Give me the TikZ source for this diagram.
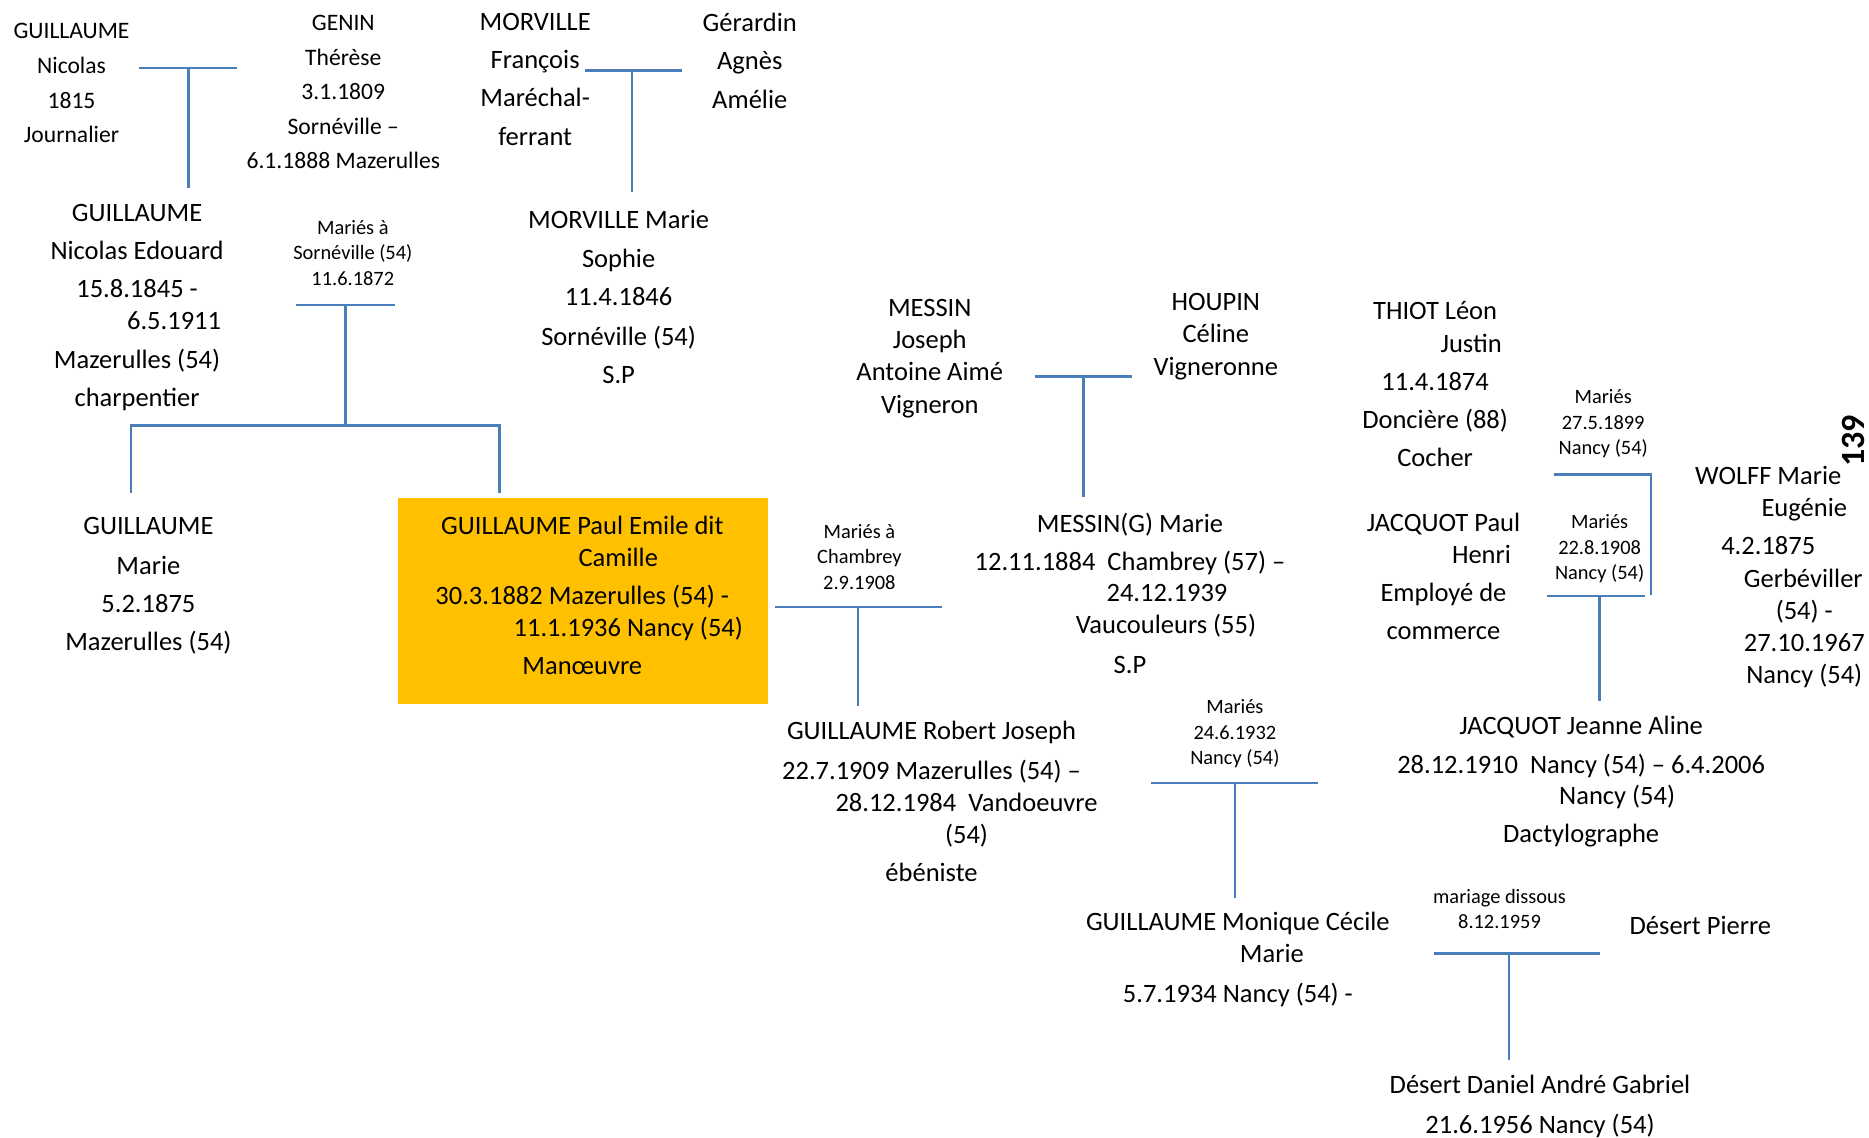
\documentclass[tikz,border=0pt]{standalone}
\usepackage{fontspec}
\setmainfont{Carlito}
\definecolor{linkblue}{HTML}{4A7EBB}
\definecolor{boxgold}{HTML}{FFC000}
\newcommand{\indr}[1]{\hspace*{#1pt}}

\begin{document}
\begin{tikzpicture}[x=0.596pt, y=-0.596pt,
  pers/.style={anchor=north, align=center, inner sep=0pt, yshift=-2.7pt,
    font=\fontsize{13.25}{16.1}\selectfont, execute at begin node=\rule{0pt}{11pt}},
  old/.style={pers, font=\fontsize{11.8}{17.3}\selectfont},
  wed/.style={anchor=north, align=center, inner sep=0pt, yshift=-2.5pt,
    font=\fontsize{10.2}{12.8}\selectfont, execute at begin node=\rule{0pt}{9pt}},
  link/.style={draw=linkblue, line width=1.2pt}]

\useasboundingbox (0,0) rectangle (1568,954);

\fill[boxgold] (334,418) rectangle (644,591);

% first generation
\node[old] (nicolas) at (60,14.9) {GUILLAUME\\Nicolas\\1815\\Journalier};
\node[old] (therese) at (288,7.9) {GENIN\\Thérèse\\3.1.1809\\Sornéville –\\6.1.1888 Mazerulles};
\node[pers] (francois) at (449,6.3) {MORVILLE\\[3pt]François\\[3pt]Maréchal-\\[3pt]ferrant};
\node[pers] (agnes) at (629,6.3) {Gérardin\\[3pt]Agnès\\[3pt]Amélie};

% second generation
\node[pers] (edouard) at (115,166.3) {GUILLAUME\\[3pt]Nicolas Edouard\\[3pt]15.8.1845 -\\\indr{37}6.5.1911\\[3pt]Mazerulles (54)\\[3pt]charpentier};
\node[pers] (sophie) at (519,171.3) {MORVILLE Marie\\[3.6pt]Sophie\\[3pt]11.4.1846\\[3.6pt]Sornéville (54)\\[3pt]S.P};
\node[wed] (mar1) at (296,180.3) {Mariés à\\Sornéville (54)\\11.6.1872};

\node[pers] (joseph) at (780,246.3) {MESSIN\\Joseph\\Antoine Aimé\\Vigneron};
\node[pers] (celine) at (1020,241.3) {HOUPIN\\Céline\\Vigneronne};
\node[pers] (leon) at (1204,248.3) {THIOT Léon\\\indr{36}Justin\\[3pt]11.4.1874\\[3pt]Doncière (88)\\[3pt]Cocher};
\node[wed] (mar3) at (1345,322.3) {Mariés\\27.5.1899\\Nancy (54)};
\node[pers] (eugenie) at (1483.5,386.3) {WOLFF Marie\\\indr{36}Eugénie\\[3pt]4.2.1875\\\indr{35}Gerbéviller\\\indr{36}(54) -\\\indr{36}27.10.1967\\\indr{36}Nancy (54)};
\node[font=\fontsize{17}{20}\selectfont\bfseries, rotate=90, inner sep=0pt] (page) at (1555,370) {139};

% third generation
\node[pers] (marieG) at (124.5,429.3) {GUILLAUME\\[3.6pt]Marie\\[3pt]5.2.1875\\[3pt]Mazerulles (54)};
\node[pers] (paul) at (488.5,428.3) {GUILLAUME Paul Emile dit\\\indr{36}Camille\\[2.5pt]30.3.1882 Mazerulles (54) -\\\indr{46}11.1.1936 Nancy (54)\\[3pt]Manœuvre};
\node[wed] (mar2) at (721,435.3) {Mariés à\\Chambrey\\2.9.1908};
\node[pers] (marieM) at (948,425.3) {MESSIN(G) Marie\\[3pt]12.11.1884\ \ Chambrey (57) –\\[-0.5pt]\indr{37}24.12.1939\\\indr{36}Vaucouleurs (55)\\[3.6pt]S.P};
\node[pers] (paulJ) at (1211,425.3) {JACQUOT Paul\\\indr{38}Henri\\[3pt]Employé de\\[3pt]commerce};
\node[wed] (mar4) at (1342,427.3) {Mariés\\22.8.1908\\Nancy (54)};

% fourth generation
\node[pers] (robert) at (781.5,600.3) {GUILLAUME Robert Joseph\\[3.6pt]22.7.1909 Mazerulles (54) –\\\indr{35}28.12.1984\ \ Vandoeuvre\\\indr{35}(54)\\[3pt]ébéniste};
\node[wed] (mar5) at (1036,582.3) {Mariés\\24.6.1932\\Nancy (54)};
\node[pers] (jeanne) at (1326.5,596.3) {JACQUOT Jeanne Aline\\[3pt]28.12.1910\ \ Nancy (54) – 6.4.2006\\[-0.5pt]\indr{36}Nancy (54)\\[3pt]Dactylographe};

% fifth generation
\node[pers] (monique) at (1038.5,760.3) {GUILLAUME Monique Cécile\\\indr{34}Marie\\[3.6pt]5.7.1934 Nancy (54) -};
\node[wed] (mar6) at (1258,741.3) {mariage dissous\\8.12.1959};
\node[pers] (pierre) at (1426.5,760.3) {Désert Pierre};
\node[pers] (daniel) at (1292,897.3) {Désert Daniel André Gabriel\\[3.6pt]21.6.1956 Nancy (54)};

% couple bars and descent lines
\coordinate (c1l) at (117,57);   \coordinate (c1r) at (199,57);   \coordinate (c1d) at (158,158);
\coordinate (c2l) at (491,59);   \coordinate (c2r) at (572,59);   \coordinate (c2d) at (530,161);
\coordinate (c3l) at (248,256);  \coordinate (c3r) at (331,256);  \coordinate (c3d) at (290,357);
\coordinate (s3l) at (110,414);  \coordinate (s3r) at (419,414);
\coordinate (c4l) at (868,316);  \coordinate (c4r) at (950,316);  \coordinate (c4d) at (909,417);
\coordinate (c5l) at (650,509);  \coordinate (c5r) at (790,509);  \coordinate (c5d) at (720,592);
\coordinate (c6l) at (1304,398); \coordinate (c6r) at (1385,398); \coordinate (c6d) at (1385,499);
\coordinate (c7l) at (1298,500); \coordinate (c7r) at (1380,500); \coordinate (c7d) at (1342,588);
\coordinate (c8l) at (966,657);  \coordinate (c8r) at (1106,657); \coordinate (c8d) at (1036,753);
\coordinate (c9l) at (1203,800); \coordinate (c9r) at (1342,800); \coordinate (c9d) at (1266,889);

\draw[link] (c1l) -- (c1r);  \draw[link] (c1d |- c1l) -- (c1d);
\draw[link] (c2l) -- (c2r);  \draw[link] (c2d |- c2l) -- (c2d);
\draw[link] (c3l) -- (c3r);  \draw[link] (c3d |- c3l) -- (c3d);
\draw[link] (s3l) |- (c3d) -| (s3r);
\draw[link] (c4l) -- (c4r);  \draw[link] (c4d |- c4l) -- (c4d);
\draw[link] (c5l) -- (c5r);  \draw[link] (c5d |- c5l) -- (c5d);
\draw[link] (c6l) -- (c6r) -- (c6d);
\draw[link] (c7l) -- (c7r);  \draw[link] (c7d |- c7l) -- (c7d);
\draw[link] (c8l) -- (c8r);  \draw[link] (c8d |- c8l) -- (c8d);
\draw[link] (c9l) -- (c9r);  \draw[link] (c9d |- c9l) -- (c9d);

\end{tikzpicture}
\end{document}
